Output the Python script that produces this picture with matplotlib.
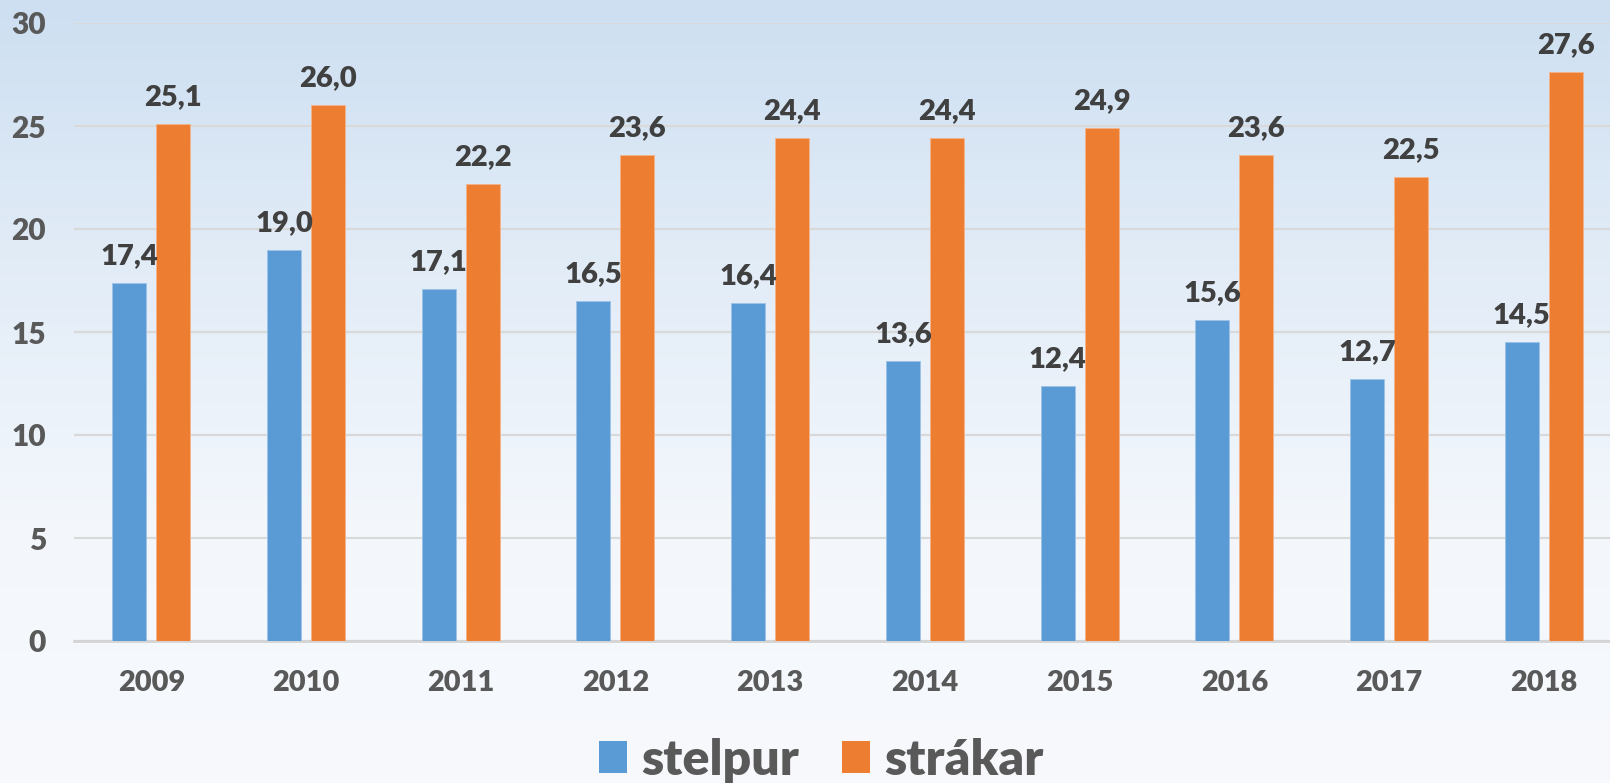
import numpy as np
import matplotlib.pyplot as plt
from matplotlib.colors import LinearSegmentedColormap
from matplotlib.patches import Patch

years = ['2009', '2010', '2011', '2012', '2013', '2014', '2015', '2016', '2017', '2018']
stelpur = [17.4, 19.0, 17.1, 16.5, 16.4, 13.6, 12.4, 15.6, 12.7, 14.5]
strakar = [25.1, 26.0, 22.2, 23.6, 24.4, 24.4, 24.9, 23.6, 22.5, 27.6]
series_names = ['stelpur', 'strákar']
yticks = [0, 5, 10, 15, 20, 25, 30]

BLUE = '#5b9bd5'
ORANGE = '#ed7d31'
TICK_GREY = '#595959'
LABEL_GREY = '#404040'

plt.rcParams['font.family'] = ['Lato', 'DejaVu Sans']
plt.rcParams['font.weight'] = 'bold'


def fmt(v):
    return f'{v:.1f}'.replace('.', ',')


fig = plt.figure(figsize=(16.1, 7.83), dpi=100)

# background gradient, light blue on top fading to near white
bg = fig.add_axes([0, 0, 1, 1], zorder=-10)
grad = np.linspace(0, 1, 256).reshape(-1, 1)
cmap = LinearSegmentedColormap.from_list('bg', ['#cddff1', '#e2ecf7', '#f3f7fc', '#f7f9fd'])
bg.imshow(grad, aspect='auto', cmap=cmap, extent=[0, 1, 0, 1], origin='upper')
bg.axis('off')

ax = fig.add_axes([74 / 1610, 142 / 783, 1547 / 1610, 618 / 783])
ax.patch.set_alpha(0)

x = np.arange(len(years))
w = 0.22
off = 0.142
b1 = ax.bar(x - off, stelpur, w, color=BLUE, edgecolor='#9cc3e8', linewidth=0.6, zorder=3)
b2 = ax.bar(x + off, strakar, w, color=ORANGE, edgecolor='#f5b48a', linewidth=0.6, zorder=3)

for bars, vals in [(b1, stelpur), (b2, strakar)]:
    for rect, v in zip(bars, vals):
        ax.annotate(fmt(v), (rect.get_x() + rect.get_width() / 2, v),
                    xytext=(0, 10), textcoords='offset points',
                    ha='center', va='bottom', fontsize=21, fontweight='heavy',
                    color=LABEL_GREY)

ax.set_xlim(-0.5, len(years) - 0.5)
ax.set_ylim(0, 30)
ax.set_yticks(yticks)
ax.set_yticklabels([str(t) for t in yticks])
ax.set_xticks(x)
ax.set_xticklabels(years)
ax.tick_params(axis='both', length=0, labelcolor=TICK_GREY)
ax.tick_params(axis='x', pad=21, labelsize=20.8)
ax.tick_params(axis='y', pad=20, labelsize=21.5)
for lbl in ax.get_xticklabels() + ax.get_yticklabels():
    lbl.set_fontweight('heavy')

ax.yaxis.grid(True, color='#d9d9d9', linewidth=1.6, zorder=0)
ax.set_axisbelow(True)
for s in ['top', 'right', 'left']:
    ax.spines[s].set_visible(False)
ax.spines['bottom'].set_color('#d4d4d4')
ax.spines['bottom'].set_linewidth(2)

handles = [Patch(facecolor=BLUE), Patch(facecolor=ORANGE)]
leg = fig.legend(handles, series_names, loc='center', bbox_to_anchor=(0.51, 0.029),
                 ncol=2, frameon=False, fontsize=36, handlelength=0.56, handleheight=0.6,
                 handletextpad=0.28, columnspacing=0.86, borderaxespad=0)
for t in leg.get_texts():
    t.set_color(TICK_GREY)
    t.set_fontweight('heavy')

fig.savefig('out.png', dpi=100)
